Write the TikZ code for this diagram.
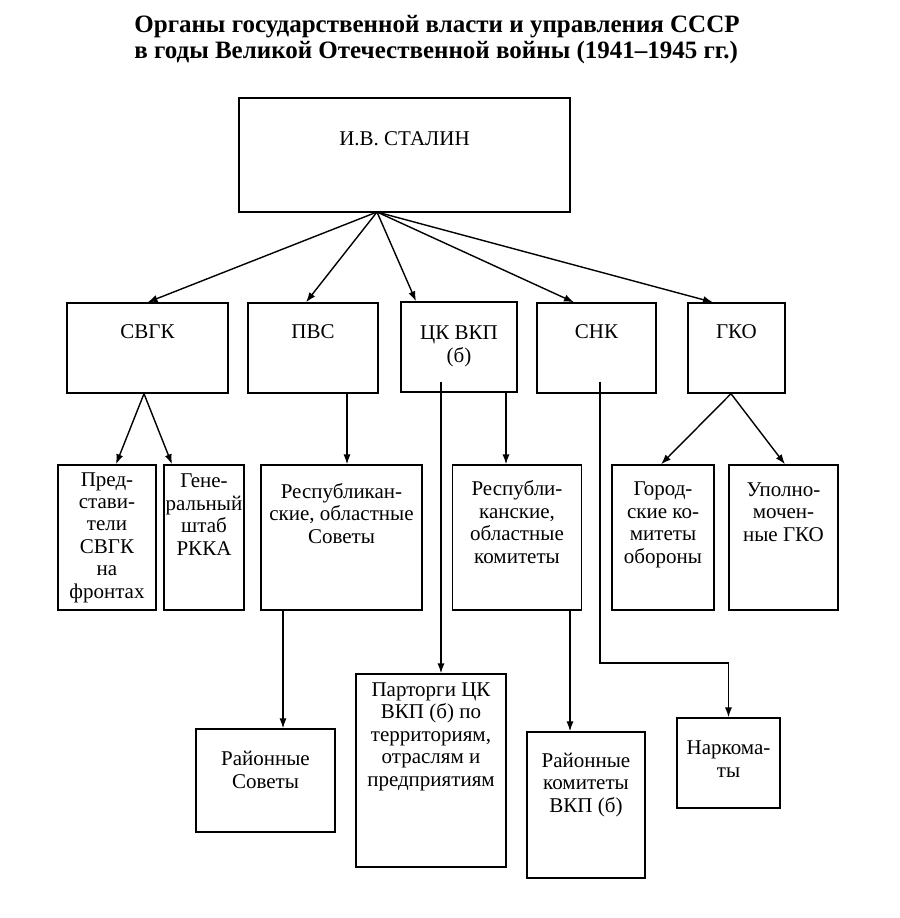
\documentclass[tikz,border=0pt]{standalone}
\usepackage{fontspec}
\setmainfont{Liberation Serif}
\usetikzlibrary{arrows.meta}
\tikzset{>={Latex[length=5pt,width=3.6pt]}}
\tikzset{
  box/.style={draw, line width=0.7pt, inner sep=0pt},
  % anchor=base sits on the last line
  txt/.style={align=center, anchor=base, inner sep=0pt,
    font=\fontsize{10.5}{11.2}\selectfont},
  con/.style={line width=0.7pt},
}

\begin{document}
\begin{tikzpicture}[x=0.5pt,y=-0.5pt]
  \useasboundingbox (0,0) rectangle (900,918);

  % title
  \node[anchor=base west, align=left, inner sep=0pt,
    font=\fontsize{12.5}{13}\selectfont\bfseries] (title) at (134,58)
    {Органы государственной власти и управления СССР\\
     в годы Великой Отечественной войны (1941--1945 гг.)};

  % top
  \node[box, minimum width=165.5pt, minimum height=57pt] (stalin) at (404.5,155) {};
  \node[txt] (t-stalin) at (404.5,145) {И.В. СТАЛИН};
  \coordinate (hub) at (377,212);

  % second row
  \node[box, minimum width=80.5pt, minimum height=45pt] (svgk) at (147.5,348) {};
  \node[box, minimum width=65pt,   minimum height=45pt] (pvs)  at (313,348) {};
  \node[box, minimum width=58pt,   minimum height=45pt] (ck)   at (459,347) {};
  \node[box, minimum width=59.5pt, minimum height=45pt] (snk)  at (596.5,348) {};
  \node[box, minimum width=48.5pt, minimum height=45pt] (gko)  at (736.5,348) {};
  \node[txt] (t-svgk) at (147.5,338) {СВГК};
  \node[txt] (t-pvs)  at (313,338) {ПВС};
  \node[txt] (t-ck)   at (459,362) {ЦК ВКП\\(б)};
  \node[txt] (t-snk)  at (596.5,338) {СНК};
  \node[txt] (t-gko)  at (736.5,338) {ГКО};

  % third row
  \node[box, minimum width=49pt,   minimum height=72.5pt] (pred)  at (107,537.5) {};
  \node[box, minimum width=40pt,   minimum height=72.5pt] (gen)   at (204,537.5) {};
  \node[box, minimum width=80.5pt, minimum height=72.5pt] (resp)  at (341.5,537.5) {};
  \node[box, minimum width=64.5pt, minimum height=72.5pt] (respk) at (517,537.5) {};
  \node[box, minimum width=51pt,   minimum height=72.5pt] (gorod) at (663,537.5) {};
  \node[box, minimum width=54.5pt, minimum height=72.5pt] (upoln) at (783.5,537.5) {};
  \node[txt] (t-pred)  at (107,598) {Пред-\\стави-\\тели\\СВГК\\на\\фронтах};
  \node[txt] (t-gen)   at (204,555) {Гене-\\ральный\\штаб\\РККА};
  \node[txt] (t-resp)  at (341.5,543) {Республикан-\\ские, областные\\Советы};
  \node[txt] (t-respk) at (517,563) {Республи-\\канские,\\областные\\комитеты};
  \node[txt] (t-gorod) at (663,563) {Город-\\ские ко-\\митеты\\обороны};
  \node[txt] (t-upoln) at (783.5,541) {Уполно-\\мочен-\\ные ГКО};

  % bottom row
  \node[box, minimum width=69.5pt, minimum height=51.5pt] (rayon)   at (265.5,780.5) {};
  \node[box, minimum width=75pt,   minimum height=96.5pt] (partorg) at (431,770.5) {};
  \node[box, minimum width=59pt,   minimum height=73pt]   (raykom)  at (586,805) {};
  \node[box, minimum width=51.5pt, minimum height=45pt]   (narkom)  at (728.5,763) {};
  \node[txt] (t-rayon)   at (265.5,788) {Районные\\Советы};
  \node[txt] (t-partorg) at (431,786) {Парторги ЦК\\ВКП (б) по\\территориям,\\отраслям и\\предприятиям};
  \node[txt] (t-raykom)  at (586,812) {Районные\\комитеты\\ВКП (б)};
  \node[txt] (t-narkom)  at (728.5,777) {Наркома-\\ты};

  % connectors
  \draw[con,->] (hub) -- (svgk.north);
  \draw[con,->] (hub) -- ([xshift=-3.5pt]pvs.north);
  \draw[con,->] (hub) -- ([xshift=-21.5pt]ck.north);
  \draw[con,->] (hub) -- ([xshift=-11.25pt]snk.north);
  \draw[con,->] (hub) -- ([xshift=-11.75pt]gko.north);

  \draw[con,->] ([xshift=-1.75pt]svgk.south) -- ([xshift=4.5pt]pred.north);
  \draw[con,->] ([xshift=-1.75pt]svgk.south) -- ([xshift=-16pt]gen.north);
  \draw[con,->] ([xshift=17pt]pvs.south) -- ([xshift=17pt]pvs.south |- resp.north);
  \draw[con,->] ([xshift=23.5pt]ck.south) -- ([xshift=23.5pt]ck.south |- respk.north);
  \draw[con,->] ([xshift=-2.75pt]gko.south) -- ([xshift=-1pt]gorod.north);
  \draw[con,->] ([xshift=-2.75pt]gko.south) -- ([xshift=0.75pt]upoln.north);

  \draw[con,->] ([xshift=-9pt,yshift=5.5pt]ck.south) -- ([xshift=-9pt]ck.south |- partorg.north);
  \coordinate (bend) at (600,663);
  \draw[con,->] ([xshift=1.75pt,yshift=6pt]snk.south) -- (bend) -| (narkom.north);
  \draw[con,->] ([xshift=-29.25pt]resp.south) -- ([xshift=-29.25pt]resp.south |- rayon.north);
  \draw[con,->] ([xshift=26.5pt]respk.south) -- ([xshift=26.5pt]respk.south |- raykom.north);
\end{tikzpicture}
\end{document}
